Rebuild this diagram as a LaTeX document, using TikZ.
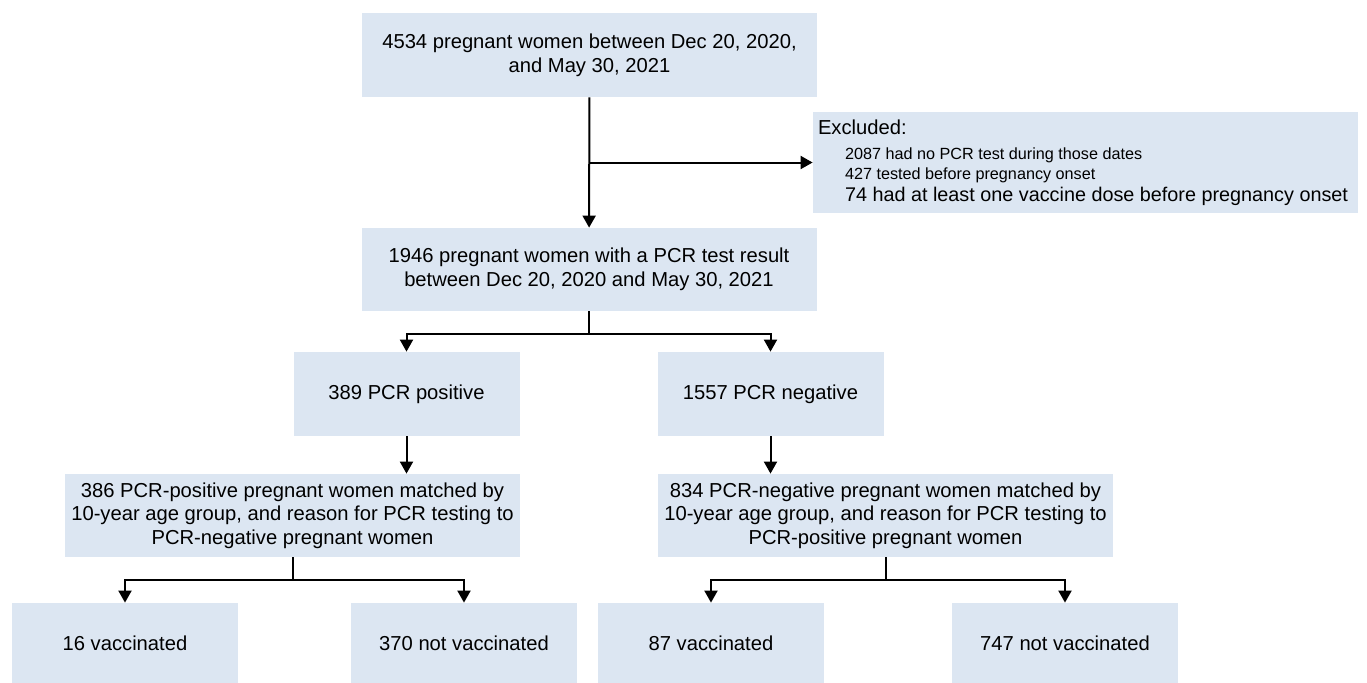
\documentclass[tikz,border=0pt]{standalone}
\usepackage{xcolor}
\usepackage{fontspec}
\setmainfont{Liberation Sans}
\usepackage{tikz}
\usetikzlibrary{positioning, calc, arrows.meta}

\definecolor{boxblue}{RGB}{220,230,242}

\begin{document}
\begin{tikzpicture}[x=0.5pt, y=-0.5pt, every node/.style={font=\fontsize{10.1}{11.8}\selectfont}]

\tikzset{box/.style={fill=boxblue, inner sep=0pt, align=center},
wide/.style={box, minimum width=227.5pt, minimum height=41.5pt},
small/.style={box, minimum width=113pt, minimum height=42pt},
arr/.style={line width=1pt, -{Triangle[width=6.5pt,length=6pt]}}}

\useasboundingbox (0,0) rectangle (1367,682);

%//top part
\node [wide, minimum height=42pt] (n4534) at (589.5,55) {4534 pregnant women between Dec 20, 2020,\\and May 30, 2021};
\node [box, align=flush left, text width=267.5pt, minimum height=50.5pt, inner xsep=2.5pt] (excl) at (1085.5,162.5)
{Excluded:\\[0.8pt]
\hspace*{13.5pt}{\fontsize{8.1}{11.8}\selectfont 2087 had no PCR test during those dates}\\[-1.8pt]
\hspace*{13.5pt}{\fontsize{8.1}{11.8}\selectfont 427 tested before pregnancy onset}\\[-1pt]
\hspace*{13.5pt}{\fontsize{9.9}{11.8}\selectfont 74 had at least one vaccine dose before pregnancy onset}};
\node [wide] (n1946) at (589,269.5) {1946 pregnant women with a PCR test result\\between Dec 20, 2020 and May 30, 2021};

%//positive / negative
\node [small] (pos389) at (406.5,394) {389 PCR positive};
\node [small] (neg1557) at (770.5,394) {1557 PCR negative};

\node [wide] (pos386) at (292.5,515.5) {386 PCR-positive pregnant women matched by\\10-year age group, and reason for PCR testing to\\PCR-negative pregnant women};
\node [wide] (neg834) at (885.5,515.5) {834 PCR-negative pregnant women matched by\\10-year age group, and reason for PCR testing to\\PCR-positive pregnant women};

\foreach \nm/\x/\val in {vac16/125/16 vaccinated, unv370/464/370 not vaccinated, vac87/711/87 vaccinated, unv747/1065/747 not vaccinated}
\node [small, minimum height=40.5pt] (\nm) at (\x, 643.5) {\val};

%//arrows
\draw [arr] (n4534) -- (n1946);
\draw [arr] (n4534.south |- excl.west) -- (excl.west);

\foreach \nm in {pos389, neg1557}
\draw [arr] (n1946.south) -- +(0,23) -| (\nm.north);

\draw [arr] (pos389.south) -- (pos389.south |- pos386.north);
\draw [arr] (neg1557.south) -- (neg1557.south |- neg834.north);

\foreach \nm in {vac16, unv370}
\draw [arr] (pos386.south) -- +(0,23) -| (\nm.north);
\foreach \nm in {vac87, unv747}
\draw [arr] (neg834.south) -- +(0,23) -| (\nm.north);

\end{tikzpicture}
\end{document}
